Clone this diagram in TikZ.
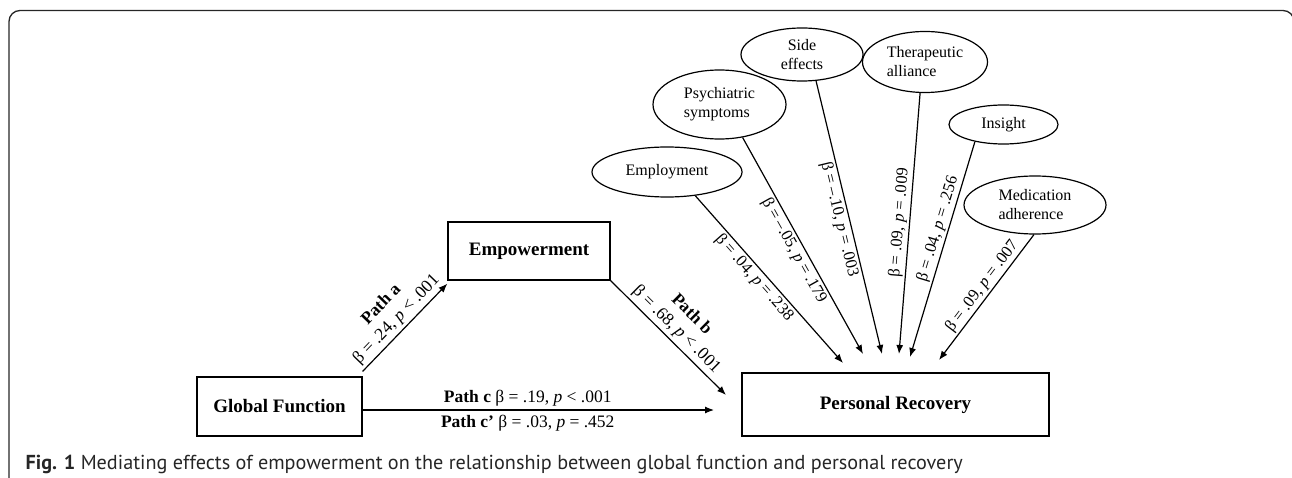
\documentclass[tikz,border=0pt]{standalone}
\usepackage{fontspec}
\setmainfont{Liberation Serif}
\newfontfamily\capfont{PT Sans}
\usetikzlibrary{positioning}
\usetikzlibrary{shapes.geometric}
\usetikzlibrary{arrows.meta}

\begin{document}
\begin{tikzpicture}[x=1pt, y=-1pt, line width=1.2pt, >={Latex[length=9pt,width=7pt]},
	box/.style={draw, rectangle, inner sep=0pt, font=\fontsize{19}{21}\selectfont\bfseries},
	oval/.style={draw, ellipse, inner sep=0pt, align=left, font=\fontsize{16}{19}\selectfont},
	lbl/.style={font=\fontsize{16.5}{18}\selectfont, sloped, inner sep=2pt},
	pathlbl/.style={font=\fontsize{17.5}{21}\selectfont, sloped, inner sep=3pt}]
	\useasboundingbox (0,0) rectangle (1292,478);
	\draw[rounded corners=11pt, line width=1.3pt, black!85] (9,10.5) rectangle (1294,500);

	\node[box, minimum width=165pt, minimum height=59pt] (gf) at (279.5,406.5) {Global Function};
	\node[box, minimum width=162pt, minimum height=58pt] (empw) at (529,251) {Empowerment};
	\node[box, minimum width=307pt, minimum height=63pt] (rec) at (895.5,404.5) {Personal Recovery};

	\node[oval, minimum width=150pt, minimum height=50pt] (empl) at (667,172) {Employment};
	\node[oval, minimum width=133pt, minimum height=69pt] (psy) at (719.5,104.5) {Psychiatric\\symptoms};
	\node[oval, align=center, minimum width=122pt, minimum height=53pt] (side) at (802,54.5) {Side\\effects};
	\node[oval, minimum width=125pt, minimum height=61pt] (ther) at (925,62) {Therapeutic\\alliance};
	\node[oval, minimum width=109pt, minimum height=39pt] (ins) at (1003.5,124.5) {Insight};
	\node[oval, minimum width=142pt, minimum height=58pt] (med) at (1035,205) {Medication\\adherence};

	\coordinate (eEmpl) at (843,363);
	\coordinate (ePsy) at (863,354);
	\coordinate (eSide) at (882,354);
	\coordinate (eTher) at (899,354);
	\coordinate (eIns) at (910,357);
	\coordinate (eMed) at (939,360);
	\coordinate (cEnd) at (714,410);
	\coordinate (bEnd) at (726,395);

	\draw[->] ([yshift=5pt]gf.north east) -- ([yshift=-3pt]empw.south west)
		node[pathlbl, above, midway, align=center] {\textbf{Path a}\\β = .24, \textit{p} < .001};
	\draw[->] (empw.south east) -- (bEnd)
		node[pathlbl, above, midway, align=center] {\textbf{Path b}\\β = .68, \textit{p} < .001};
	\draw[->] (gf.east |- cEnd) -- (cEnd)
		node[pathlbl, above, pos=0.47] {\textbf{Path c} β = .19, \textit{p} < .001}
		node[pathlbl, below, pos=0.47, inner sep=5pt] {\textbf{Path c’} β = .03, \textit{p} = .452};

	\draw[->] (empl.320) -- (eEmpl) node[lbl, below, pos=0.45] {β = .04, \textit{p} = .238};
	\draw[->] (psy.305) -- (ePsy) node[lbl, below, pos=0.5] {β = –.05, \textit{p} = .179};
	\draw[->] (side.298) -- (eSide) node[lbl, below, pos=0.5] {β = –.10, \textit{p} = .003};
	\draw[->] (ther.261) -- (eTher) node[lbl, above, pos=0.5] {β = .09, \textit{p} = .009};
	\draw[->] (ins.211) -- (eIns) node[lbl, above, pos=0.42] {β = .04, \textit{p} = .256};
	\draw[->] (med.268) -- (eMed) node[lbl, above, pos=0.46] {β = .09, \textit{p} = .007};

	\node[anchor=base west, inner sep=0pt, text=black!85, font=\capfont\fontsize{20.2}{24}\selectfont] (cap) at (25,469)
		{\textbf{Fig. 1} Mediating effects of empowerment on the relationship between global function and personal recovery};
\end{tikzpicture}
\end{document}
